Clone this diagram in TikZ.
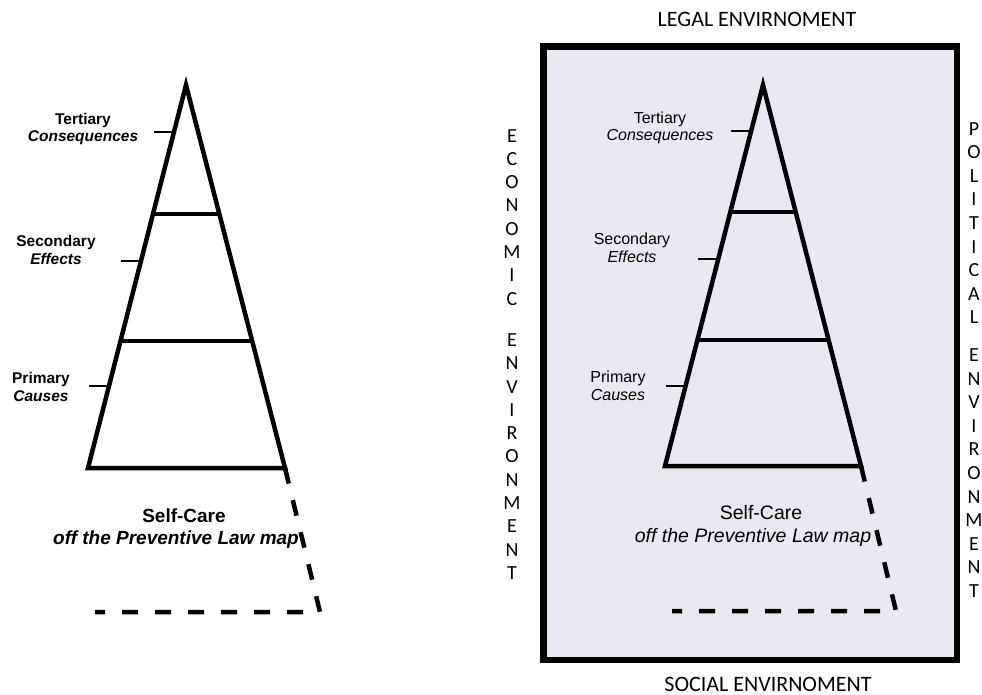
\documentclass[tikz,border=0pt]{standalone}
\usepackage{fontspec}
\setmainfont{Liberation Sans}
\newfontfamily\envfont{Carlito}
\usetikzlibrary{calc}
\definecolor{mapfill}{RGB}{233,233,244}
\begin{document}
\begin{tikzpicture}[x=1pt,y=-1pt,line join=miter]
  \tikzstyle{edge}=[line width=4.5pt]
  \tikzstyle{tick}=[line width=1.6pt]
  \tikzstyle{offmap}=[line width=4.5pt, dash pattern=on 16pt off 17pt]
  \tikzstyle{lvl}=[align=center, inner sep=0pt, font=\fontsize{16}{17.5}\selectfont]
  \tikzstyle{lvlb}=[align=center, inner sep=0pt, font=\fontsize{15.5}{17.5}\selectfont\bfseries]
  \tikzstyle{selfr}=[inner sep=0pt, font=\fontsize{19.5}{23}\selectfont]
  \tikzstyle{selfl}=[inner sep=0pt, font=\fontsize{19}{23}\selectfont\bfseries]
  \tikzstyle{env}=[inner sep=0pt, font=\envfont\fontsize{22}{22}\selectfont]
  \tikzstyle{envcol}=[inner sep=0pt, align=center, anchor=north]

  \useasboundingbox (0,0) rectangle (982,695);

  % left pyramid
  \coordinate (lA) at (186,85);
  \coordinate (lBL) at (88,468);
  \coordinate (lBR) at (285,468);
  \coordinate (lDR) at (320,612);
  \coordinate (lDL) at (95,612);
  \draw[edge] (lBL) -- (lA) -- (lBR) -- cycle;
  \draw[edge] ($(lA)!0.337!(lBL)$) -- ($(lA)!0.337!(lBR)$);
  \draw[edge] ($(lA)!0.668!(lBL)$) -- ($(lA)!0.668!(lBR)$);
  \draw[offmap] (lBR) -- (lDR) -- (lDL);

  \node[lvlb] (lter) at (83,129) {Tertiary\\\itshape Consequences};
  \node[lvlb] (lsec) at (56,250) {Secondary\\\itshape Effects};
  \node[lvlb] (lpri) at (41,387) {Primary\\\itshape Causes};
  \coordinate (lt1) at ($(lA)!0.123!(lBL)$);
  \coordinate (lt2) at ($(lA)!0.46!(lBL)$);
  \coordinate (lt3) at ($(lA)!0.786!(lBL)$);
  \draw[tick] (lt1) -- ++(-20,0);
  \draw[tick] (lt2) -- ++(-20,0);
  \draw[tick] (lt3) -- ++(-20,0);

  \node[selfl] (lself) at (184,516) {Self-Care};
  \node[selfl] (lmap) at (176,540) {\itshape off the Preventive Law map};

  % right panel
  \draw[fill=mapfill, line width=6.5pt] (543.5,46.5) rectangle (957,660);
  \node[env] (legal) at (757,19) {LEGAL ENVIRNOMENT};
  \node[env] (social) at (768,684) {SOCIAL ENVIRNOMENT};
  \node[envcol, font=\envfont\fontsize{20}{23.3}\selectfont] (econ) at (512,129)
    {E\\C\\O\\N\\O\\M\\I\\C\\[18pt]E\\N\\V\\I\\R\\O\\N\\M\\E\\N\\T};
  \node[envcol, font=\envfont\fontsize{20}{23.6}\selectfont] (poli) at (974,122)
    {P\\O\\L\\I\\T\\I\\C\\A\\L\\[14pt]E\\N\\V\\I\\R\\O\\N\\M\\E\\N\\T};

  % right pyramid
  \coordinate (rA) at (763,85);
  \coordinate (rBL) at (665,466);
  \coordinate (rBR) at (861,466);
  \coordinate (rDR) at (896,611);
  \coordinate (rDL) at (672,611);
  \draw[edge] (rBL) -- (rA) -- (rBR) -- cycle;
  \draw[edge] ($(rA)!0.333!(rBL)$) -- ($(rA)!0.333!(rBR)$);
  \draw[edge] ($(rA)!0.669!(rBL)$) -- ($(rA)!0.669!(rBR)$);
  \draw[offmap] (rBR) -- (rDR) -- (rDL);

  \node[lvl] (rter) at (660,128) {Tertiary\\\itshape Consequences};
  \node[lvl] (rsec) at (632,248) {Secondary\\\itshape Effects};
  \node[lvl] (rpri) at (618,386) {Primary\\\itshape Causes};
  \coordinate (rt1) at ($(rA)!0.121!(rBL)$);
  \coordinate (rt2) at ($(rA)!0.457!(rBL)$);
  \coordinate (rt3) at ($(rA)!0.79!(rBL)$);
  \draw[tick] (rt1) -- ++(-20,0);
  \draw[tick] (rt2) -- ++(-20,0);
  \draw[tick] (rt3) -- ++(-20,0);

  \node[selfr] (rself) at (761,513) {Self-Care};
  \node[selfr] (rmap) at (753,537) {\itshape off the Preventive Law map};
\end{tikzpicture}
\end{document}
